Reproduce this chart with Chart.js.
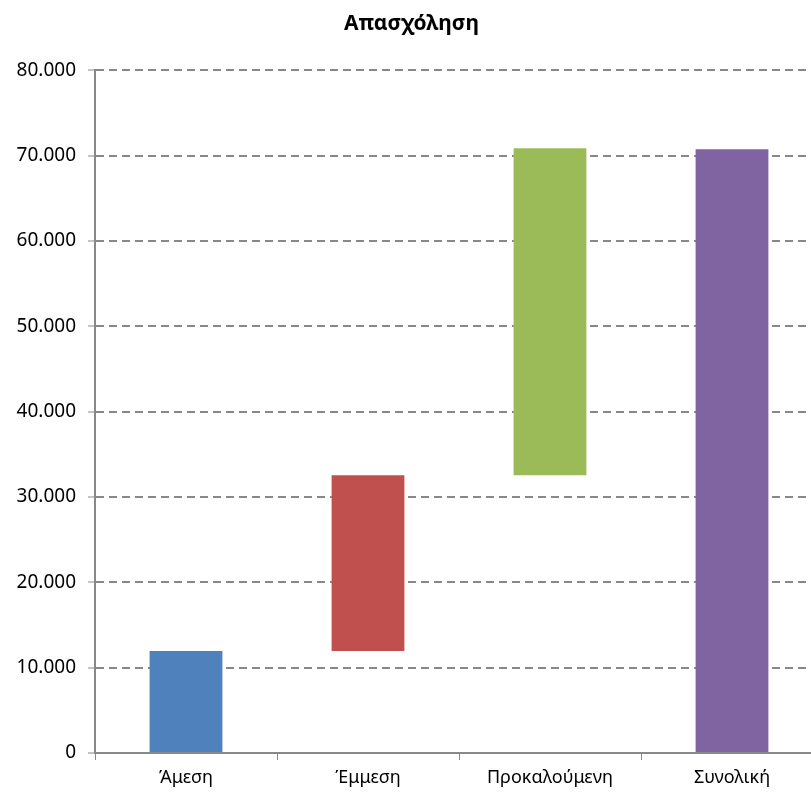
<!DOCTYPE html>
<html>
<head>
    <title>Απασχόληση</title>
    <script src="https://cdn.jsdelivr.net/npm/chart.js"></script>
    <style>
        body {
            margin: 0;
            background-color: #fff;
            overflow: hidden;
        }

        #chart-container {
            width: 850px;
            height: 792px;
        }
    </style>
</head>
<body>
    <div id="chart-container">
        <canvas id="chart" width="850" height="792"></canvas>
    </div>

    <script>
        // categories and floating bar ranges (start, end)
        const categories = ['Άμεση', 'Έμμεση', 'Προκαλούμενη', 'Συνολική'];
        const barStarts = [0, 11950, 32550, 0];
        const barEnds = [11950, 32550, 70850, 70750];
        const barColors = ['#4F81BD', '#C0504D', '#9BBB59', '#8064A2'];
        const yTicks = [0, 10000, 20000, 30000, 40000, 50000, 60000, 70000, 80000];

        const fontFamily = '"Noto Sans", "DejaVu Sans", sans-serif';

        function formatThousands(value) {
            return String(value).replace(/\B(?=(\d{3})+(?!\d))/g, '.');
        }

        const ctx = document.getElementById('chart').getContext('2d');
        const chart = new Chart(ctx, {
            type: 'bar',
            data: {
                labels: categories,
                datasets: [{
                    label: 'Απασχόληση',
                    data: barStarts.map((s, i) => [s, barEnds[i]]),
                    backgroundColor: barColors,
                    borderWidth: 0,
                    categoryPercentage: 1,
                    barPercentage: 0.4
                }]
            },
            options: {
                responsive: false,
                animation: false,
                layout: {
                    padding: { left: 0, right: 27, top: 0, bottom: 0 }
                },
                plugins: {
                    legend: { display: false },
                    tooltip: { enabled: false },
                    title: {
                        display: true,
                        text: 'Απασχόληση',
                        color: '#000',
                        font: { family: fontFamily, size: 21, weight: 'bold' },
                        padding: { top: 11, bottom: 34 }
                    }
                },
                scales: {
                    x: {
                        grid: {
                            offset: true,
                            drawOnChartArea: false,
                            color: '#888',
                            tickLength: 7
                        },
                        border: { color: '#888', width: 2 },
                        ticks: {
                            color: '#000',
                            padding: 7,
                            font: { family: fontFamily, size: 18 }
                        },
                        afterFit: function (scale) {
                            scale.height = 39;
                        }
                    },
                    y: {
                        min: 0,
                        max: 80000,
                        afterBuildTicks: function (scale) {
                            scale.ticks = yTicks.map(v => ({ value: v }));
                        },
                        grid: {
                            color: '#888',
                            lineWidth: 2,
                            tickLength: 7,
                            tickWidth: 1
                        },
                        border: { color: '#888', width: 2, dash: [8, 5] },
                        ticks: {
                            color: '#000',
                            padding: 12,
                            font: { family: fontFamily, size: 19 },
                            callback: function (value) {
                                return formatThousands(value);
                            }
                        },
                        afterFit: function (scale) {
                            scale.width = 95;
                        }
                    }
                }
            }
        });
    </script>
</body>
</html>
